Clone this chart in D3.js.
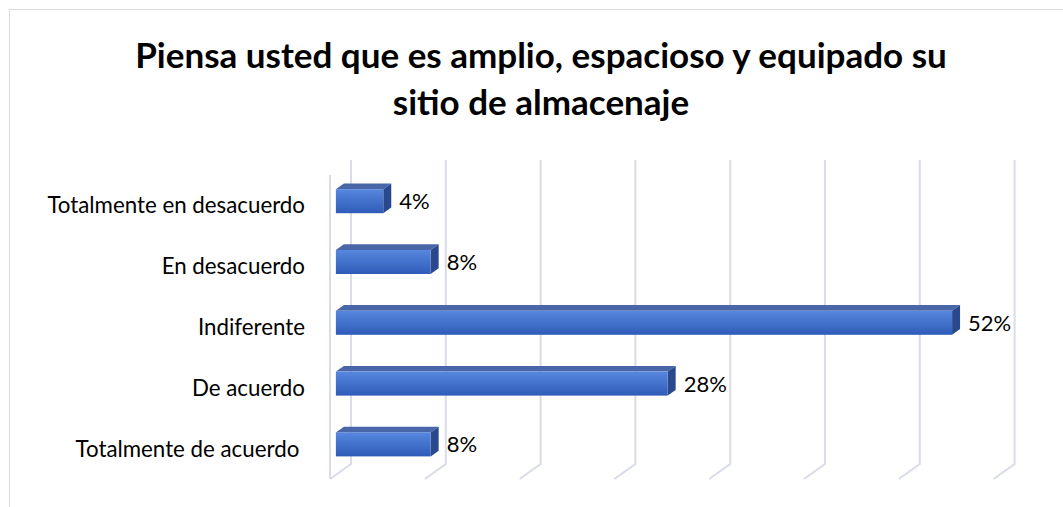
<!DOCTYPE html>
<html>
<head>
<meta charset="utf-8">
<script src="https://cdn.jsdelivr.net/npm/d3@7"></script>
<style>
  body { margin: 0; background: #fff; }
  svg { display: block; }
  .cat { font-family: Lato, 'Noto Sans', sans-serif; font-size: 22.3px; fill: #000; white-space: pre; }
  .val { font-family: Lato, 'Noto Sans', sans-serif; font-size: 22px; fill: #000; }
  .title { font-family: Lato, 'Noto Sans', sans-serif; font-size: 35px; font-weight: bold; fill: #000; }
</style>
</head>
<body>
<div id="chart"></div>
<script>
//Datos
const categorias = ['Totalmente en desacuerdo', 'En desacuerdo', 'Indiferente', 'De acuerdo', 'Totalmente de acuerdo '];
const valores = [0.04, 0.08, 0.52, 0.28, 0.08];
const ticks = [0, 0.08, 0.16, 0.24, 0.32, 0.40, 0.48, 0.56];
const titulo = ['Piensa usted que es amplio, espacioso y equipado su', 'sitio de almacenaje'];

const COLOR_GRID = '#d9dce6',
    COLOR_TOP = '#4866a8',
    COLOR_SIDE = '#29498c';

let width = 1063, height = 507;

let svg = d3.select('#chart')
    .append('svg')
    .attr('width', width)
    .attr('height', height);

//Borde del gráfico
svg.append('rect')
    .attr('x', 9.5).attr('y', 9.5)
    .attr('width', 1100).attr('height', 600)
    .attr('fill', '#fff')
    .attr('stroke', '#d9d9d9');

//Degradado de la cara frontal
let grad = svg.append('defs').append('linearGradient')
    .attr('id', 'frontGrad')
    .attr('x1', 0).attr('y1', 0).attr('x2', 0).attr('y2', 1);
grad.append('stop').attr('offset', '0%').attr('stop-color', '#5787de');
grad.append('stop').attr('offset', '100%').attr('stop-color', '#2e5bb8');

//Título
svg.append('g').selectAll('text')
    .data(titulo)
    .enter()
    .append('text')
    .attr('class', 'title')
    .attr('x', 541)
    .attr('y', function(d, i) { return 68 + i * 47; })
    .attr('text-anchor', 'middle')
    .text(function(d) { return d; });

//Plano frontal y profundidad 3D
let front = {left: 330, right: 993.6, top: 175, bottom: 479};
let DX = 21, DY = -15;
let barDepth0 = 0.28, barDepth1 = 0.66;

let x = d3.scaleLinear()
    .domain([0, 0.56])
    .range([front.left, front.right]);

let y = d3.scaleBand()
    .domain(categorias)
    .range([front.top, front.bottom]);

let barH = 24;

//Rejilla (pared del fondo + suelo)
let grid = svg.append('g').attr('stroke', COLOR_GRID).attr('stroke-width', 2).attr('fill', 'none');
grid.selectAll('path.grid')
    .data(ticks)
    .enter()
    .append('path')
    .attr('class', 'grid')
    .attr('d', function(d) {
        let xb = x(d) + DX;
        return 'M' + xb + ',' + (front.top + DY) + 'L' + xb + ',' + (front.bottom + DY) + 'L' + x(d) + ',' + front.bottom;
    });

//Borde frontal de la pared lateral
grid.append('line')
    .attr('x1', x(0)).attr('x2', x(0))
    .attr('y1', front.top).attr('y2', front.bottom);

//Barras 3D
let bars = svg.append('g').selectAll('g')
    .data(categorias)
    .enter()
    .append('g');

function barGeom(d, i) {
    let cy = y(d) + y.bandwidth() / 2;
    let x0 = x(0) + DX * barDepth0, x1 = x(valores[i]) + DX * barDepth0;
    let y0 = cy - barH / 2 + DY * barDepth0, y1 = y0 + barH;
    let dx = DX * (barDepth1 - barDepth0), dy = DY * (barDepth1 - barDepth0);
    return {x0, x1, y0, y1, dx, dy};
}

bars.append('path')
    .attr('fill', COLOR_TOP)
    .attr('d', function(d, i) {
        let g = barGeom(d, i);
        return 'M' + g.x0 + ',' + g.y0 + 'L' + (g.x0 + g.dx) + ',' + (g.y0 + g.dy) + 'L' + (g.x1 + g.dx) + ',' + (g.y0 + g.dy) + 'L' + g.x1 + ',' + g.y0 + 'Z';
    });

bars.append('path')
    .attr('fill', COLOR_SIDE)
    .attr('d', function(d, i) {
        let g = barGeom(d, i);
        return 'M' + g.x1 + ',' + g.y0 + 'L' + (g.x1 + g.dx) + ',' + (g.y0 + g.dy) + 'L' + (g.x1 + g.dx) + ',' + (g.y1 + g.dy) + 'L' + g.x1 + ',' + g.y1 + 'Z';
    });

bars.append('rect')
    .attr('fill', 'url(#frontGrad)')
    .attr('x', function(d, i) { return barGeom(d, i).x0; })
    .attr('y', function(d, i) { return barGeom(d, i).y0; })
    .attr('width', function(d, i) { let g = barGeom(d, i); return g.x1 - g.x0; })
    .attr('height', barH);

//Etiquetas de valor
bars.append('text')
    .attr('class', 'val')
    .attr('x', function(d, i) { let g = barGeom(d, i); return g.x1 + g.dx + 8; })
    .attr('y', function(d, i) { let g = barGeom(d, i); return g.y0 + barH / 2 + 8; })
    .text(function(d, i) { return Math.round(valores[i] * 100) + '%'; });

//Etiquetas de categoría
svg.append('g').selectAll('text')
    .data(categorias)
    .enter()
    .append('text')
    .attr('class', 'cat')
    .attr('x', 305)
    .attr('y', function(d) { return y(d) + y.bandwidth() / 2 + 8; })
    .attr('text-anchor', 'end')
    .text(function(d) { return d; });
</script>
</body>
</html>
